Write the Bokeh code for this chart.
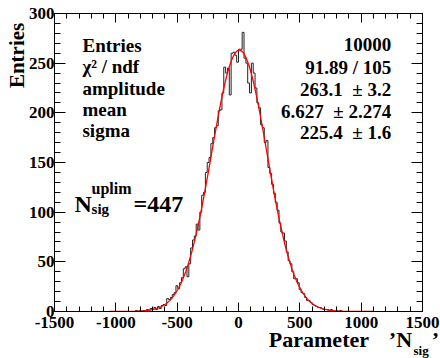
import numpy as np
from bokeh.plotting import figure
from bokeh.models import Label, LinearAxis, SingleIntervalTicker, Range1d, CustomJSTickFormatter
from bokeh.embed import file_html
from bokeh.resources import INLINE

# ---- data ----
bin_width = 15.0
axis_lo, axis_hi = -1500.0, 1500.0
first_bin_center = -847.5
counts = [0, 1, 0, 1, 0, 1, 1, 2, 1, 3, 2, 4, 2, 5, 3, 6, 7, 6, 13, 12,
          14, 17, 19, 26, 23, 29, 34, 43, 45, 35, 48, 64, 72, 76, 88, 82, 100, 117, 120, 140,
          150, 155, 169, 175, 185, 187, 202, 203, 220, 246, 240, 245, 218, 260, 261, 258, 251, 264, 264, 281,
          255, 250, 230, 220, 250, 240, 225, 210, 205, 188, 185, 170, 172, 145, 139, 128, 119, 110, 102, 89,
          80, 79, 71, 60, 51, 48, 40, 33, 33, 29, 22, 19, 18, 14, 11, 11, 9, 7, 6, 5,
          4, 4, 3, 2, 2, 2, 1, 2, 1, 0, 1, 0, 1, 0]
fit_amplitude = 263.1
fit_mean = 6.627
fit_sigma = 225.4
fit_lo, fit_hi = -1050.0, 1100.0

stat_names = ["Entries", "\u03c7\u00b2 / ndf", "amplitude", "mean", "sigma"]
stat_values = ["10000", "91.89 / 105", "263.1 \u00a0\u00b1 3.2", "6.627 \u00a0\u00b1 2.274", "225.4 \u00a0\u00b1 1.6"]
x_ticks = [-1500, -1000, -500, 0, 500, 1000, 1500]
x_tick_labels = ["-1500", "-1000", "-500", "0", "500", "1000", "1500"]
y_ticks = [0, 50, 100, 150, 200, 250, 300]
y_tick_labels = ["0", "50", "100", "150", "200", "250", "300"]
x_title = "Parameter\u2002\u2009\u2009\u2019N\u2002\u2009\u2009\u2019"
x_title_sub = "sig"
y_title = "Entries"

# ROOT puts axis titles at the axis end; Bokeh centres them, so pad in front
x_pad = "\u2003" * 10 + "\u2002"
y_pad = "\u2003" * 10 + "\u2009"

# ---- histogram arrays ----
n_bins = int(round((axis_hi - axis_lo) / bin_width))
full = np.zeros(n_bins)
offset = int(round((first_bin_center - bin_width / 2 - axis_lo) / bin_width))
full[offset:offset + len(counts)] = counts
edges = axis_lo + bin_width * np.arange(n_bins + 1)
step_x = edges
step_y = np.append(full, full[-1])

fx = np.linspace(fit_lo, fit_hi, 600)
fy = fit_amplitude * np.exp(-0.5 * ((fx - fit_mean) / fit_sigma) ** 2)

FONT = "Liberation Serif"

p = figure(width=440, height=358, x_range=Range1d(axis_lo, axis_hi), y_range=Range1d(0, 300),
           output_backend="svg", toolbar_location=None,
           min_border_left=54, min_border_right=18, min_border_top=13, min_border_bottom=47)
p.xgrid.visible = False
p.ygrid.visible = False
p.outline_line_color = "black"
p.outline_line_width = 1
p.background_fill_color = "white"
p.border_fill_color = "white"

def style(ax, ticker, major, minor):
    ax.ticker = ticker
    ax.axis_line_color = "black"
    ax.major_tick_line_color = "black"
    ax.minor_tick_line_color = "black"
    ax.major_tick_in = major
    ax.major_tick_out = 0
    ax.minor_tick_in = minor
    ax.minor_tick_out = 0
    ax.major_label_text_font = FONT
    ax.major_label_text_font_style = "bold"
    ax.major_label_text_font_size = "17px"
    ax.major_label_text_color = "black"
    ax.axis_label_text_font = FONT
    ax.axis_label_text_font_style = "bold"
    ax.axis_label_text_font_size = "22px"
    ax.axis_label_text_color = "black"

xa = p.xaxis[0]
ya = p.yaxis[0]
style(xa, SingleIntervalTicker(interval=500, num_minor_ticks=5), 9, 5)
style(ya, SingleIntervalTicker(interval=50, num_minor_ticks=5), 11, 6)
xa.major_label_overrides = {float(t): s for t, s in zip(x_ticks, x_tick_labels)}
ya.major_label_overrides = {float(t): s for t, s in zip(y_ticks, y_tick_labels)}
xa.major_label_standoff = 5
ya.major_label_standoff = 0
xa.axis_label = x_pad + x_title
xa.axis_label_standoff = -4
ya.axis_label = y_pad + y_title
ya.axis_label_text_font_size = "21px"
ya.axis_label_standoff = -3

blank = CustomJSTickFormatter(code="return ''")
top = LinearAxis()
style(top, SingleIntervalTicker(interval=500, num_minor_ticks=5), 9, 5)
top.formatter = blank
top.major_label_standoff = 0
right = LinearAxis()
style(right, SingleIntervalTicker(interval=50, num_minor_ticks=5), 11, 6)
right.formatter = blank
right.major_label_standoff = 0
p.add_layout(top, "above")
p.add_layout(right, "right")

p.step(step_x, step_y, mode="after", line_color="#222222", line_width=1)
p.line(fx, fy, line_color="red", line_width=1.3)

def lab(x, y, text, size, align="left", angle=0.0, baseline="alphabetic", units="data"):
    return Label(x=x, y=y, text=text, text_font=FONT, text_font_style="bold",
                 text_font_size=size, text_align=align, text_baseline=baseline,
                 angle=angle, text_color="black", x_units=units, y_units=units)

left_y = [267.8, 246.6, 225.0, 203.4, 182.2]
right_y = [268.3, 245.6, 223.5, 201.8, 180.2]
for s, y in zip(stat_names, left_y):
    p.add_layout(lab(-1272, y, s, "19px"))
for s, y in zip(stat_values, right_y):
    p.add_layout(lab(1245, y, s, "19px", align="right"))

p.add_layout(lab(-1337, 108.7, "N", "24px"))
p.add_layout(lab(-1198, 123.8, "uplim", "16px"))
p.add_layout(lab(-1198, 102.7, "sig", "15px"))
p.add_layout(lab(-856, 108.7, "=447", "24px"))

p.add_layout(lab(-9, -39, x_title_sub, "13px", units="screen"), "right")

open("out.html", "w").write(file_html(p, INLINE))
